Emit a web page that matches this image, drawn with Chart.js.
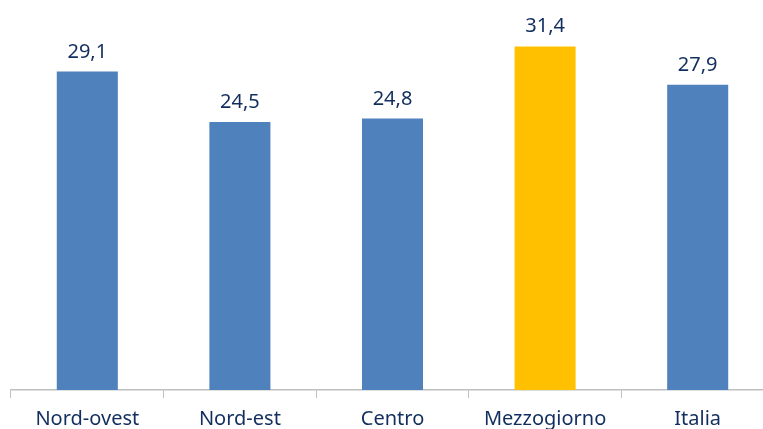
<!DOCTYPE html>
<html>
<head>
<meta charset="utf-8">
<script src="https://cdn.jsdelivr.net/npm/chart.js@4"></script>
<style>
  html, body { margin: 0; padding: 0; background: #fff; overflow: hidden; }
  #wrap { width: 763px; height: 429px; overflow: hidden; }
</style>
</head>
<body>
<div id="wrap"><canvas id="chart" width="775" height="429"></canvas></div>
<script>
const categories = ['Nord-ovest', 'Nord-est', 'Centro', 'Mezzogiorno', 'Italia'];
const values = [29.1, 24.5, 24.8, 31.4, 27.9];
const barColors = ['#4F81BD', '#4F81BD', '#4F81BD', '#FFC000', '#4F81BD'];

const labelColor = '#112E5E';
const fontFamily = '"Noto Sans", "DejaVu Sans", sans-serif';

// etichette dei valori sopra le barre (virgola decimale)
const valueLabels = {
    id: 'valueLabels',
    afterDatasetsDraw(chart) {
        const ctx = chart.ctx;
        const meta = chart.getDatasetMeta(0);
        ctx.save();
        ctx.fillStyle = labelColor;
        ctx.font = '20px ' + fontFamily;
        ctx.textAlign = 'center';
        ctx.textBaseline = 'alphabetic';
        meta.data.forEach((bar, i) => {
            const txt = values[i].toFixed(1).replace('.', ',');
            ctx.fillText(txt, bar.x, bar.y - 14);
        });
        ctx.restore();
    }
};

new Chart(document.getElementById('chart'), {
    type: 'bar',
    data: {
        labels: categories,
        datasets: [{
            data: values,
            backgroundColor: barColors,
            categoryPercentage: 1,
            barPercentage: 0.4
        }]
    },
    options: {
        responsive: false,
        animation: false,
        layout: { padding: { left: 11, right: 1, top: 7, bottom: 0 } },
        plugins: { legend: { display: false }, tooltip: { enabled: false } },
        scales: {
            y: { display: false, min: 0, max: 35 },
            x: {
                grid: { drawOnChartArea: false, drawTicks: true, tickLength: 8, color: '#BFBFBF', offset: true },
                border: { color: '#BFBFBF', width: 1.5 },
                ticks: { color: labelColor, font: { family: fontFamily, size: 20 }, padding: 9 },
                afterFit(scale) { scale.height = 39; }
            }
        }
    },
    plugins: [valueLabels]
});
</script>
</body>
</html>
